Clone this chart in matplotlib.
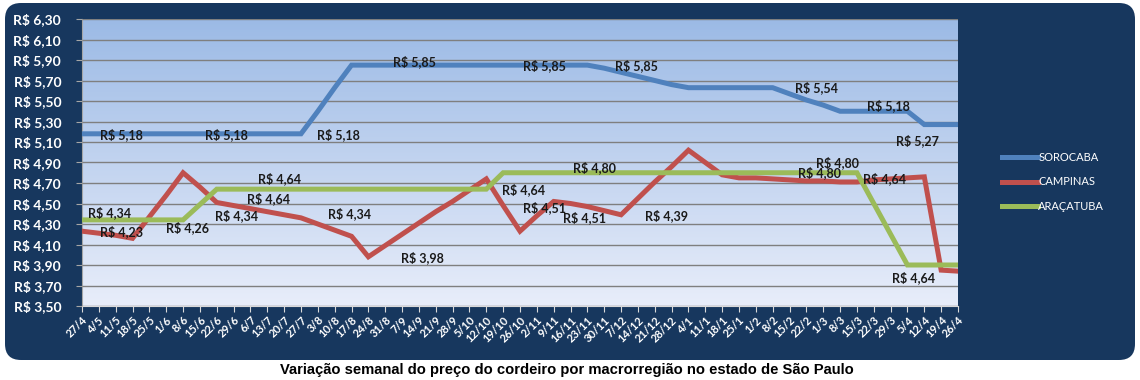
import matplotlib
matplotlib.use('Agg')
import matplotlib.pyplot as plt
import numpy as np
from matplotlib.patches import FancyBboxPatch

# ---------------- data ----------------
dates = ['27/4', '4/5', '11/5', '18/5', '25/5', '1/6', '8/6', '15/6', '22/6', '29/6',
         '6/7', '13/7', '20/7', '27/7', '3/8', '10/8', '17/8', '24/8', '31/8', '7/9',
         '14/9', '21/9', '28/9', '5/10', '12/10', '19/10', '26/10', '2/11', '9/11', '16/11',
         '23/11', '30/11', '7/12', '14/12', '21/12', '28/12', '4/1', '11/1', '18/1', '25/1',
         '1/2', '8/2', '15/2', '22/2', '1/3', '8/3', '15/3', '22/3', '29/3', '5/4',
         '12/4', '19/4', '26/4']

sorocaba = [5.18, 5.18, 5.18, 5.18, 5.18, 5.18, 5.18, 5.18, 5.18, 5.18,
            5.18, 5.18, 5.18, 5.18, 5.40, 5.63, 5.85, 5.85, 5.85, 5.85,
            5.85, 5.85, 5.85, 5.85, 5.85, 5.85, 5.85, 5.85, 5.85, 5.85,
            5.85, 5.82, 5.78, 5.74, 5.70, 5.66, 5.63, 5.63, 5.63, 5.63,
            5.63, 5.63, 5.57, 5.51, 5.46, 5.40, 5.40, 5.40, 5.40, 5.40,
            5.27, 5.27, 5.27]

campinas = [4.23, 4.21, 4.19, 4.16, 4.37, 4.58, 4.80, 4.66, 4.51, 4.48,
            4.45, 4.42, 4.39, 4.36, 4.30, 4.24, 4.18, 3.98, 4.09, 4.20,
            4.31, 4.42, 4.52, 4.63, 4.74, 4.48, 4.23, 4.38, 4.52, 4.50,
            4.47, 4.43, 4.39, 4.55, 4.71, 4.86, 5.02, 4.90, 4.78, 4.75,
            4.75, 4.74, 4.73, 4.72, 4.72, 4.71, 4.71, 4.73, 4.74, 4.75,
            4.76, 3.85, 3.84]

aracatuba = [4.34, 4.34, 4.34, 4.34, 4.34, 4.34, 4.34, 4.49, 4.64, 4.64,
             4.64, 4.64, 4.64, 4.64, 4.64, 4.64, 4.64, 4.64, 4.64, 4.64,
             4.64, 4.64, 4.64, 4.64, 4.64, 4.80, 4.80, 4.80, 4.80, 4.80,
             4.80, 4.80, 4.80, 4.80, 4.80, 4.80, 4.80, 4.80, 4.80, 4.80,
             4.80, 4.80, 4.80, 4.80, 4.80, 4.80, 4.80, 4.50, 4.20, 3.90,
             3.90, 3.90, 3.90]

series_names = ['SOROCABA', 'CAMPINAS', 'ARAÇATUBA']
series_colors = ['#4F81BD', '#C0504D', '#9BBB59']

# data labels: text and where it sits (category position, value)
label_texts = ['R$ 5,18', 'R$ 5,18', 'R$ 5,18', 'R$ 5,85', 'R$ 5,85', 'R$ 5,85',
               'R$ 5,54', 'R$ 5,18', 'R$ 5,27',
               'R$ 4,34', 'R$ 4,23', 'R$ 4,26', 'R$ 4,34', 'R$ 4,64', 'R$ 4,64',
               'R$ 4,34', 'R$ 3,98', 'R$ 4,64', 'R$ 4,51', 'R$ 4,51', 'R$ 4,80',
               'R$ 4,39', 'R$ 4,80', 'R$ 4,80', 'R$ 4,64', 'R$ 4,64']
label_x = [2.37, 8.55, 15.20, 19.71, 27.48, 32.94, 43.63, 47.90, 49.57,
           1.66, 2.37, 6.29, 9.20, 11.75, 11.10, 15.91, 20.18, 26.24, 27.48,
           29.80, 30.45, 34.67, 44.82, 43.75, 47.67, 49.39]
label_y = [5.173, 5.173, 5.173, 5.887, 5.848, 5.848, 5.633, 5.457, 5.114,
           4.410, 4.224, 4.263, 4.380, 4.742, 4.547, 4.400, 3.970, 4.635, 4.459,
           4.361, 4.850, 4.380, 4.899, 4.801, 4.742, 3.773]

title = 'Variação semanal do preço do cordeiro por macrorregião no estado de São Paulo'

# ---------------- figure ----------------
W, H, DPI = 1140, 380, 100
fig = plt.figure(figsize=(W / DPI, H / DPI), dpi=DPI)
fig.patch.set_facecolor('white')

navy = '#17375E'
box = FancyBboxPatch((5 / DPI, (H - 360) / DPI), 1130 / DPI, 357 / DPI,
                     boxstyle='round,pad=0,rounding_size=0.16',
                     transform=fig.dpi_scale_trans, facecolor=navy,
                     edgecolor='none', zorder=-5)
fig.patches.append(box)

ax = fig.add_axes([82 / W, 1 - 306 / H, (958 - 82) / W, (306 - 19) / H])
ax.set_zorder(2)
ax.set_facecolor('none')

# gradient plot area
grad = np.linspace(0, 1, 256).reshape(-1, 1)
top = np.array([0.61, 0.73, 0.90])
bot = np.array([0.91, 0.93, 0.98])
img = top[None, None, :] * (1 - grad[..., None]) + bot[None, None, :] * grad[..., None]
ax.imshow(img, extent=[0, 1, 0, 1], transform=ax.transAxes, aspect='auto', zorder=0)

x = np.arange(len(dates))
for vals, name, col in zip([sorocaba, campinas, aracatuba], series_names, series_colors):
    ax.plot(x, vals, color=col, lw=3.6, solid_joinstyle='miter', label=name, zorder=3)

ax.set_xlim(0, len(dates) - 1)
ax.set_ylim(3.5, 6.3)
yt = np.round(np.arange(3.5, 6.31, 0.2), 2)
ax.set_yticks(yt)
ax.set_yticklabels([('R$ %.2f' % v).replace('.', ',') for v in yt],
                   color='white', fontsize=10, fontweight='bold', family='Lato')
ax.set_xticks(x)
ax.set_xticklabels(dates, rotation=45, ha='right', rotation_mode='anchor',
                   color='white', fontsize=8, fontweight='bold', family='Lato')
ax.tick_params(axis='y', length=4, color='#A6A6A6', pad=11)
ax.tick_params(axis='x', length=4, color='#D9D9D9', pad=2)
ax.grid(axis='y', color='#7F7F7F', lw=1.0, zorder=1)
ax.set_axisbelow(False)
for s in ['top', 'right']:
    ax.spines[s].set_visible(False)
ax.spines['left'].set_color('#A6A6A6')
ax.spines['bottom'].set_color('#D9D9D9')

for t, lx, ly in zip(label_texts, label_x, label_y):
    ax.text(lx, ly, t, ha='center', va='center', fontsize=9, fontweight='bold',
            family='Lato', color='#1A1A1A', zorder=4)

leg = ax.legend(loc='center left', bbox_to_anchor=(1002 / W, 1 - 182 / H),
                bbox_transform=fig.transFigure, frameon=False, fontsize=8,
                handlelength=3.2, handletextpad=0.05, labelspacing=1.25,
                borderpad=0, borderaxespad=0)
for txt in leg.get_texts():
    txt.set_color('white')
    txt.set_family('Lato')
for h in leg.get_lines():
    h.set_linewidth(3.6)

fig.text(567 / W, 1 - 370 / H, title, ha='center', va='center', fontsize=10.6,
         fontweight='bold', family='Liberation Sans', color='black')

fig.savefig('out.png', dpi=DPI, facecolor='white')
